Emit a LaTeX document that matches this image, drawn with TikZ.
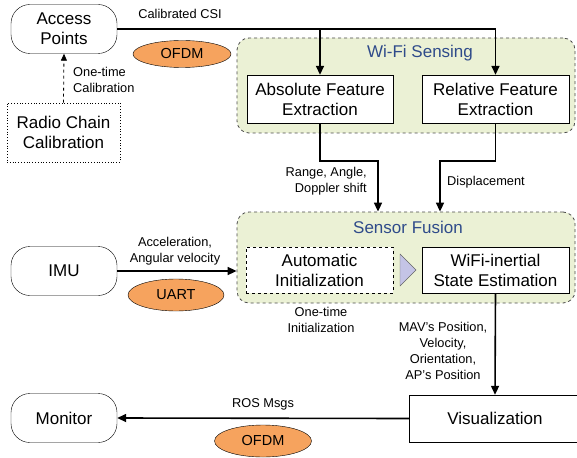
\documentclass[tikz,border=0pt]{standalone}
\usepackage{fontspec}
\setmainfont{Liberation Sans}
\usetikzlibrary{arrows.meta,shapes.geometric}

\definecolor{groupfill}{HTML}{EBF1D5}
\definecolor{groupline}{HTML}{4A4A4A}
\definecolor{titleblue}{HTML}{2F4B8A}
\definecolor{linkfill}{HTML}{F6A35E}
\definecolor{trifill}{HTML}{C4C4E6}

\tikzset{
	box/.style={shape=rectangle,draw=black,fill=white,inner sep=0pt,align=center,font=\fontsize{17}{20}\selectfont},
	pill/.style={box,rounded corners=19pt,minimum width=106pt,minimum height=49pt},
	group/.style={shape=rectangle,draw=groupline,fill=groupfill,dashed,rounded corners=12pt,inner sep=0pt,line width=0.8pt},
	title/.style={text=titleblue,font=\fontsize{17}{20}\selectfont},
	link/.style={shape=ellipse,draw=black,fill=linkfill,inner sep=0pt,font=\fontsize{14.5}{17}\selectfont},
	lbl/.style={font=\fontsize{12.8}{16}\selectfont,inner sep=0pt},
	arrow/.style={line width=1.6pt,-{Triangle[length=9pt,width=8pt]}}
}

\begin{document}
\begin{tikzpicture}[x=1pt,y=-1pt]
	\useasboundingbox (0,0) rectangle (577,457);

	% groups
	\node[group,minimum width=338pt,minimum height=95pt] (wifi) at (406, 85.5) {};
	\node[title] (wifititle) at (420, 53) {Wi-Fi Sensing};
	\node[group,minimum width=338pt,minimum height=91pt] (fusion) at (406, 257.5) {};
	\node[title] (fusiontitle) at (408, 227) {Sensor Fusion};

	% boxes
	\node[pill] (ap) at (64, 29) {Access\\Points};
	\node[box,dotted,line width=0.8pt,minimum width=113pt,minimum height=59pt] (rcc) at (63.5, 132.5) {Radio Chain\\Calibration};
	\node[box,minimum width=146pt,minimum height=48pt] (abs) at (320, 99) {Absolute Feature\\Extraction};
	\node[box,minimum width=147pt,minimum height=48pt] (rel) at (495.5, 99) {Relative Feature\\Extraction};
	\node[pill] (imu) at (64, 271) {IMU};
	\node[box,dashed,minimum width=147pt,minimum height=46pt] (init) at (319.5, 270) {Automatic\\Initialization};
	\node[box,minimum width=147pt,minimum height=46pt] (wie) at (495.5, 270) {WiFi-inertial\\State Estimation};
	\node[pill] (mon) at (64, 418) {Monitor};
	\node[box,minimum width=172pt,minimum height=47pt] (vis) at (495, 418.5) {Visualization};
	\draw[draw=gray!80!black,fill=trifill] (400, 254) -- (416, 270) -- (400, 286) -- cycle;

	% links
	\node[link,minimum width=98pt,minimum height=27pt] (ofdma) at (182, 54) {OFDM};
	\node[link,minimum width=96pt,minimum height=32pt] (uart) at (176, 295) {UART};
	\node[link,minimum width=97pt,minimum height=32pt] (ofdmb) at (263, 441) {OFDM};

	% connectors
	\coordinate (rangeknee) at (378, 161);
	\coordinate (dispknee) at (440, 161);
	\draw[arrow] (ap.east) -| (rel.north);
	\draw[arrow] (abs.north |- ap.east) -- (abs.north);
	\draw[arrow] (abs.south) |- (rangeknee) -- (rangeknee |- fusion.north);
	\draw[arrow] (rel.south) |- (dispknee) -- (dispknee |- fusion.north);
	\draw[arrow] (imu.east) -- (imu.east -| fusion.west);
	\draw[arrow] (wie.south) -- (vis.north);
	\draw[arrow] (vis.west) -- (mon.east);
	\draw[dashed,line width=0.8pt,-{Triangle[length=7pt,width=6pt]}] (rcc.north) -- (ap.south);

	% labels
	\node[lbl] (csi) at (180, 14) {Calibrated CSI};
	\node[lbl,align=left,anchor=west] (calib) at (73, 80) {One-time\\Calibration};
	\node[lbl,align=right,anchor=east] (range) at (367, 181) {Range, Angle,\\Doppler shift};
	\node[lbl,anchor=west] (disp) at (447, 182) {Displacement};
	\node[lbl,align=center] (accel) at (175, 251) {Acceleration,\\Angular velocity};
	\node[lbl,align=center] (oneinit) at (321, 320) {One-time\\Initialization};
	\node[lbl,align=center] (state) at (443, 351) {MAV's Position,\\Velocity,\\Orientation,\\AP's Position};
	\node[lbl] (ros) at (263, 404) {ROS Msgs};
\end{tikzpicture}
\end{document}
